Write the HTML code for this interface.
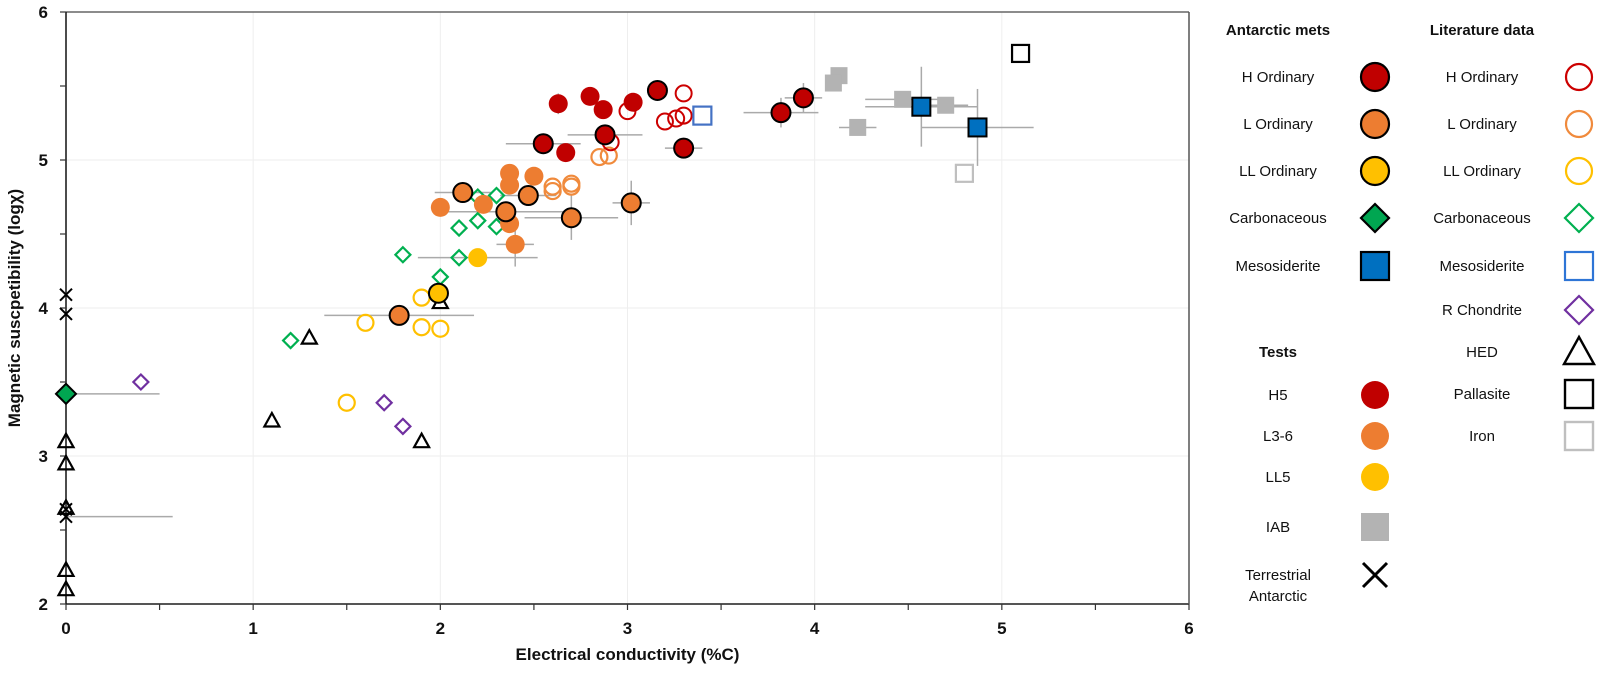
<!DOCTYPE html>
<html><head><meta charset="utf-8"><style>
html,body{margin:0;padding:0;background:#fff;}
svg{display:block;font-family:"Liberation Sans",Arial,sans-serif;}
</style></head><body>
<svg id="chart" width="1600" height="676" viewBox="0 0 1600 676" xmlns="http://www.w3.org/2000/svg"></svg>
<script>
// ---- data ----
const xTicks = [0,1,2,3,4,5,6];
const yTicks = [2,3,4,5,6];
const antHx = [3.16,2.55,2.88,3.30,3.82,3.94];
const antHy = [5.47,5.11,5.17,5.08,5.32,5.42];
const antHxe = [0,0.2,0.2,0.1,0.2,0.1];
const antHye = [0,0,0.06,0,0.1,0.1];
const antLx = [2.12,2.47,2.35,2.70,3.02,1.78];
const antLy = [4.78,4.76,4.65,4.61,4.71,3.95];
const antLxe = [0.15,0.15,0.35,0.25,0.1,0.4];
const antLye = [0,0,0,0.15,0.15,0];
const antLLx = [1.99];
const antLLy = [4.10];
const antCx = [0.0];
const antCy = [3.42];
const antMx = [4.57,4.87];
const antMy = [5.36,5.22];
const antMxe = [0.3,0.3];
const antMye = [0.27,0.26];
const litHx = [3.30,3.00,3.20,3.26,3.30,2.91];
const litHy = [5.45,5.33,5.26,5.28,5.30,5.12];
const litLx = [2.85,2.90,2.60,2.60,2.70,2.70];
const litLy = [5.02,5.03,4.82,4.79,4.84,4.82];
const litLLx = [1.90,1.60,1.90,2.00,1.50];
const litLLy = [4.07,3.90,3.87,3.86,3.36];
const litCx = [1.80,2.10,2.20,2.30,2.20,2.30,2.10,2.00,1.20];
const litCy = [4.36,4.54,4.59,4.55,4.75,4.76,4.34,4.21,3.78];
const litMx = [3.40];
const litMy = [5.30];
const litRx = [0.40,1.70,1.80];
const litRy = [3.50,3.36,3.20];
const hedX = [1.30,1.10,1.90,2.00,0,0,0,0,0];
const hedY = [3.80,3.24,3.10,4.04,3.10,2.95,2.65,2.23,2.10];
const palX = [5.10];
const palY = [5.72];
const ironX = [4.80];
const ironY = [4.91];
const h5x = [2.63,2.80,2.87,3.03,2.67];
const h5y = [5.38,5.43,5.34,5.39,5.05];
const h5ye = [0.07,0,0,0,0];
const l36x = [2.00,2.37,2.37,2.50,2.23,2.37,2.40];
const l36y = [4.68,4.91,4.83,4.89,4.70,4.57,4.43];
const l36xe = [0,0,0,0,0,0,0.1];
const l36ye = [0,0,0,0,0,0,0.15];
const ll5x = [2.20];
const ll5y = [4.34];
const ll5xe = [0.32];
const iabX = [4.13,4.10,4.23,4.47,4.70];
const iabY = [5.57,5.52,5.22,5.41,5.37];
const iabXe = [0,0,0.1,0.2,0.12];
const terrX = [0,0,0,0];
const terrY = [4.09,3.96,2.59,2.64];
const terrXe = [0,0,0.57,0];
const carbXe = [0.5];

// ---- axes ----
const X0=66, X1=1189, Y0=604, Y1=12;
const sx = v => X0 + (v-0)/(6-0)*(X1-X0);
const sy = v => Y0 - (v-2)/(6-2)*(Y0-Y1);
const svg = document.getElementById('chart');
const NS='http://www.w3.org/2000/svg';
function mk(tag, attrs, parent){
  const e=document.createElementNS(NS,tag);
  for(const k in attrs) e.setAttribute(k,attrs[k]);
  (parent||svg).appendChild(e); return e;
}
const defs = mk('defs',{});
const cp = mk('clipPath',{id:'plotclip'},defs);
mk('rect',{x:X0,y:Y1,width:X1-X0,height:Y0-Y1},cp);

const grid = mk('g',{});


xTicks.forEach(t=>{ if(t>0&&t<6) mk('line',{x1:sx(t),x2:sx(t),y1:Y1,y2:Y0,stroke:'#eeeeee','stroke-width':1},grid); });
yTicks.forEach(t=>{ if(t>2&&t<6) mk('line',{x1:X0,x2:X1,y1:sy(t),y2:sy(t),stroke:'#eeeeee','stroke-width':1},grid); });

const axes = mk('g',{});


mk('line',{x1:X0,x2:X1,y1:Y1,y2:Y1,stroke:'#666','stroke-width':1.5},axes);
mk('line',{x1:X1,x2:X1,y1:Y1,y2:Y0,stroke:'#555','stroke-width':1.5},axes);
mk('line',{x1:X0,x2:X1,y1:Y0,y2:Y0,stroke:'#555','stroke-width':2},axes);
mk('line',{x1:X0,x2:X0,y1:Y1,y2:Y0,stroke:'#111','stroke-width':1.5},axes);
for(let t=0;t<=6.001;t+=0.5){ mk('line',{x1:sx(t),x2:sx(t),y1:Y0,y2:Y0+6,stroke:'#333','stroke-width':1.2},axes); }
for(let t=2;t<=6.001;t+=0.5){ mk('line',{x1:X0-6,x2:X0,y1:sy(t),y2:sy(t),stroke:'#333','stroke-width':1.2},axes); }
xTicks.forEach(t=>{
  const e=mk('text',{x:sx(t),y:Y0+30,'text-anchor':'middle','font-size':17,'font-weight':'bold',fill:'#111'});
  e.textContent=t;
  
  
});
yTicks.forEach(t=>{
  const e=mk('text',{x:X0-18,y:sy(t)+6,'text-anchor':'end','font-size':17,'font-weight':'bold',fill:'#111'});
  e.textContent=t;
  
  
});
const xt=mk('text',{x:(X0+X1)/2,y:660,'text-anchor':'middle','font-size':17,'font-weight':'bold',fill:'#111'});
xt.textContent='Electrical conductivity (%C)';


const yt=mk('text',{x:0,y:0,'text-anchor':'middle','font-size':17,'font-weight':'bold',fill:'#111',transform:'translate(20,'+((Y0+Y1)/2)+') rotate(-90)'});
yt.textContent='Magnetic suscpetibility (logχ)';



// ---- markers ----
const plot = mk('g',{});


const errG = mk('g',{'clip-path':'url(#plotclip)'},plot);


const markG = mk('g',{},plot);

function marker(g, shape, cx, cy, size, fill, stroke, sw){
  let e;
  if(shape==='circle') e=mk('circle',{cx:cx,cy:cy,r:size/2,fill:fill,stroke:stroke,'stroke-width':sw},g);
  else if(shape==='square') e=mk('rect',{x:cx-size/2,y:cy-size/2,width:size,height:size,fill:fill,stroke:stroke,'stroke-width':sw},g);
  else if(shape==='diamond'){ const h=size/2; e=mk('polygon',{points:`${cx},${cy-h} ${cx+h},${cy} ${cx},${cy+h} ${cx-h},${cy}`,fill:fill,stroke:stroke,'stroke-width':sw},g); }
  else if(shape==='triangle'){ const h=size/2; e=mk('polygon',{points:`${cx},${cy-h} ${cx+h},${cy+h*0.8} ${cx-h},${cy+h*0.8}`,fill:fill,stroke:stroke,'stroke-width':sw},g); }
  else if(shape==='cross'){ const h=size/2; e=mk('path',{d:`M${cx-h},${cy-h}L${cx+h},${cy+h}M${cx+h},${cy-h}L${cx-h},${cy+h}`,fill:'none',stroke:stroke,'stroke-width':sw},g); }
  return e;
}
function series(name, xs, ys, shape, size, fill, stroke, sw, xe, ye){
  const g=mk('g',{},markG);
  
  
  xs.forEach((x,i)=>{
    const cx=sx(x), cy=sy(ys[i]);
    if(xe && xe[i]) mk('line',{x1:sx(x-xe[i]),x2:sx(x+xe[i]),y1:cy,y2:cy,stroke:'#aaa','stroke-width':1.5},errG);
    if(ye && ye[i]) mk('line',{x1:cx,x2:cx,y1:sy(ys[i]-ye[i]),y2:sy(ys[i]+ye[i]),stroke:'#aaa','stroke-width':1.5},errG);
    const m=marker(g,shape,cx,cy,size,fill,stroke,sw);
    
    
  });
}
series('literature-ll-ordinary',litLLx,litLLy,'circle',16,'none','#ffc000',2.2);
series('literature-carbonaceous',litCx,litCy,'diamond',15,'none','#00b050',2.2);
series('literature-r-chondrite',litRx,litRy,'diamond',15,'none','#7030a0',2.2);
series('hed',hedX,hedY,'triangle',15,'none','#000',2.2);
series('literature-l-ordinary',litLx,litLy,'circle',16,'none','#f08a3c',2.2);
series('literature-h-ordinary',litHx,litHy,'circle',16,'none','#cc0000',2);
series('literature-mesosiderite',litMx,litMy,'square',18,'none','#4472c4',2.2);
series('pallasite',palX,palY,'square',17,'none','#000',2.2);
series('iron',ironX,ironY,'square',17,'none','#bfbfbf',2.2);
series('test-iab',iabX,iabY,'square',17,'#b3b3b3','none',0,iabXe,null);
series('test-h5',h5x,h5y,'circle',19,'#c00000','none',0,null,h5ye);
series('test-l3-6',l36x,l36y,'circle',19,'#ed7d31','none',0,l36xe,l36ye);
series('test-ll5',ll5x,ll5y,'circle',19,'#ffc000','none',0,ll5xe,null);
series('terrestrial-antarctic',terrX,terrY,'cross',12,'none','#000',2,terrXe,null);
series('antarctic-carbonaceous',antCx,antCy,'diamond',20,'#00a651','#000',2,carbXe,null);
series('antarctic-h-ordinary',antHx,antHy,'circle',19,'#c00000','#000',2,antHxe,antHye);
series('antarctic-l-ordinary',antLx,antLy,'circle',19,'#ed7d31','#000',2,antLxe,antLye);
series('antarctic-ll-ordinary',antLLx,antLLy,'circle',19,'#ffc000','#000',2);
series('antarctic-mesosiderite',antMx,antMy,'square',18,'#0070c0','#000',2,antMxe,antMye);

// ---- legend ----
const leg = mk('g',{});


function ltext(txt,x,y,bold){
  const e=mk('text',{x:x,y:y,'text-anchor':'middle','font-size':15,'font-weight':bold?'bold':'normal',fill:'#111'},leg);
  e.textContent=txt;
  
  
  return e;
}
function lentry(txt,lx,mx,y,shape,size,fill,stroke,sw){
  const g=mk('g',{},leg);
  
  
  const t=mk('text',{x:lx,y:y+5,'text-anchor':'middle','font-size':15,fill:'#111'},g);
  t.textContent=txt;
  marker(g,shape,mx,y,size,fill,stroke,sw);
}
ltext('Antarctic mets',1278,35,true);
ltext('Literature data',1482,35,true);
ltext('Tests',1278,357,true);
const LA=1278, MA=1375, LB=1482, MB=1579;
lentry('H Ordinary',LA,MA,77,'circle',28,'#c00000','#000',2.2);
lentry('L Ordinary',LA,MA,124,'circle',28,'#ed7d31','#000',2.2);
lentry('LL Ordinary',LA,MA,171,'circle',28,'#ffc000','#000',2.2);
lentry('Carbonaceous',LA,MA,218,'diamond',28,'#00a651','#000',2.2);
lentry('Mesosiderite',LA,MA,266,'square',28,'#0070c0','#000',2.2);
lentry('H Ordinary',LB,MB,77,'circle',26,'none','#cc0000',2.2);
lentry('L Ordinary',LB,MB,124,'circle',26,'none','#f08a3c',2.2);
lentry('LL Ordinary',LB,MB,171,'circle',26,'none','#ffc000',2.2);
lentry('Carbonaceous',LB,MB,218,'diamond',28,'none','#00b050',2.2);
lentry('Mesosiderite',LB,MB,266,'square',28,'none','#2e75d6',2.2);
lentry('R Chondrite',LB,MB,310,'diamond',28,'none','#7030a0',2.2);
lentry('HED',LB,MB,352,'triangle',30,'none','#000',2.4);
lentry('Pallasite',LB,MB,394,'square',28,'none','#000',2.4);
lentry('Iron',LB,MB,436,'square',28,'none','#bfbfbf',2.4);
lentry('H5',LA,MA,395,'circle',28,'#c00000','none',0);
lentry('L3-6',LA,MA,436,'circle',28,'#ed7d31','none',0);
lentry('LL5',LA,MA,477,'circle',28,'#ffc000','none',0);
lentry('IAB',LA,MA,527,'square',28,'#b3b3b3','none',0);
const tg=mk('g',{},leg);


const t1=mk('text',{x:LA,y:580,'text-anchor':'middle','font-size':15,fill:'#111'},tg); t1.textContent='Terrestrial';
const t2=mk('text',{x:LA,y:601,'text-anchor':'middle','font-size':15,fill:'#111'},tg); t2.textContent='Antarctic';
marker(tg,'cross',MA,575,24,'none','#000',3);
</script>
</body></html>
